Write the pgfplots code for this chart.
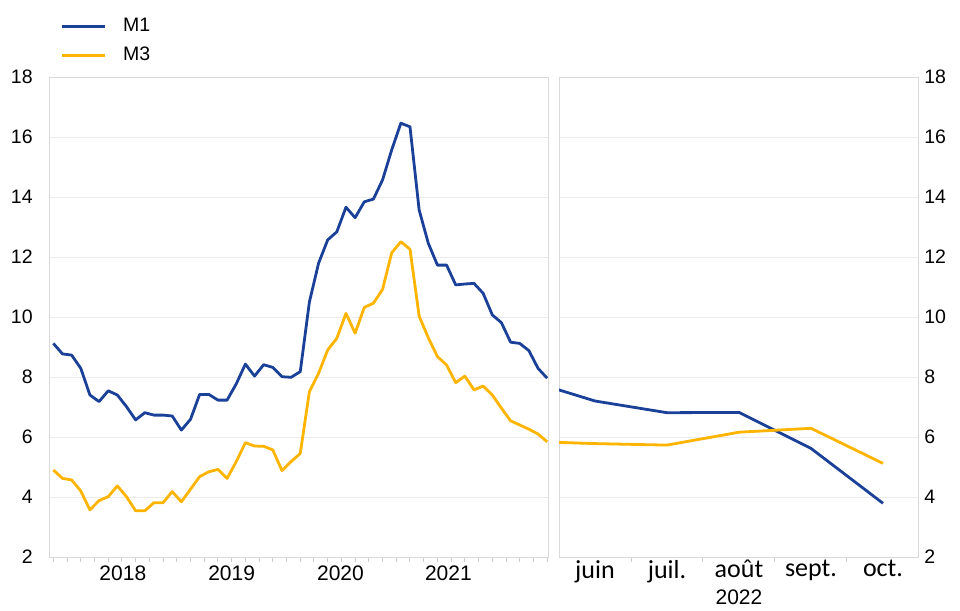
\documentclass[border=0pt]{standalone}
\usepackage{fontspec}
\setmainfont{Liberation Sans}
\newfontfamily\calibri{Carlito}
\usepackage{pgfplots}
\pgfplotsset{compat=1.18}
\definecolor{mone}{RGB}{26,64,152}
\definecolor{mthree}{RGB}{255,180,0}
\pgfplotsset{panel/.style={
  scale only axis, height=240pt, ymin=2, ymax=18, ytick={2,4,...,18},
  ymajorgrids, grid style={draw=black!8, line width=0.5pt},
  axis line style={draw=black!15, line width=0.5pt},
  major tick length=0pt, minor tick length=2.5pt,
  tick align=outside, xtick pos=lower,
  minor tick style={draw=black!20, line width=0.5pt},
  yticklabel style={font=\fontsize{9.75}{11}\selectfont, inner sep=0pt},
  /pgf/number format/assume math mode=true,
  every axis plot/.append style={line width=1.4pt, line join=round},
}}
\begin{document}
\begin{tikzpicture}[x=1pt,y=1pt]
\useasboundingbox (0,0) rectangle (480,-305.5);
\begin{axis}[panel, at={(24.75pt,-278.5pt)}, anchor=south west, width=249.75pt,
  xmin=-2.42, xmax=52.2,
  xtick={5.6,17.5,29.4,41.2}, xticklabels={2018,2019,2020,2021},
  xticklabel style={font=\fontsize{10.5}{12}\selectfont, anchor=north, inner sep=0pt, yshift=-4pt},
  minor xtick={-2,-0.5,...,52},
  yticklabel style={anchor=east, xshift=-8.25pt},
  legend style={at={(axis description cs:0,1)}, anchor=south west, xshift=5.25pt, yshift=4.5pt,
    draw=none, fill=none, inner sep=0pt, font=\fontsize{9.75}{11}\selectfont, row sep=2pt,
    /tikz/every odd column/.append style={column sep=6.5pt}},
  legend cell align=left,
  legend image code/.code={\draw[#1] (0pt,0pt) -- (21.5pt,0pt);},
]
\addplot[mone] coordinates {
(-2,9.12)(-1,8.77)(0,8.73)(1,8.29)(2,7.40)(3,7.18)(4,7.54)(5,7.40)(6,7.01)(7,6.57)
(8,6.81)(9,6.73)(10,6.73)(11,6.70)(12,6.23)(13,6.59)(14,7.42)(15,7.42)(16,7.23)(17,7.23)
(18,7.77)(19,8.43)(20,8.03)(21,8.41)(22,8.32)(23,8.01)(24,7.99)(25,8.18)(26,10.50)(27,11.79)
(28,12.57)(29,12.84)(30,13.66)(31,13.31)(32,13.84)(33,13.93)(34,14.57)(35,15.57)(36,16.46)(37,16.34)
(38,13.57)(39,12.46)(40,11.73)(41,11.73)(42,11.07)(43,11.10)(44,11.12)(45,10.79)(46,10.07)(47,9.81)
(48,9.16)(49,9.12)(50,8.88)(51,8.29)(52,7.96)};
\addlegendentry{M1}
\addplot[mthree] coordinates {
(-2,4.90)(-1,4.62)(0,4.57)(1,4.20)(2,3.57)(3,3.88)(4,4.01)(5,4.37)(6,4.01)(7,3.54)
(8,3.54)(9,3.81)(10,3.81)(11,4.18)(12,3.84)(13,4.26)(14,4.68)(15,4.84)(16,4.92)(17,4.62)
(18,5.18)(19,5.81)(20,5.70)(21,5.69)(22,5.57)(23,4.88)(24,5.18)(25,5.45)(26,7.51)(27,8.12)
(28,8.90)(29,9.29)(30,10.12)(31,9.46)(32,10.32)(33,10.46)(34,10.92)(35,12.14)(36,12.51)(37,12.26)
(38,10.03)(39,9.31)(40,8.68)(41,8.40)(42,7.81)(43,8.03)(44,7.57)(45,7.70)(46,7.40)(47,6.96)
(48,6.54)(49,6.40)(50,6.26)(51,6.10)(52,5.84)};
\addlegendentry{M3}
\end{axis}
\begin{axis}[panel, at={(279.5pt,-278.5pt)}, anchor=south west, width=180pt,
  xmin=52.5, xmax=57.5,
  xtick={53,...,57}, xticklabels={juin,juil.,août,sept.,oct.},
  xticklabel style={font=\calibri\fontsize{13}{15}\selectfont, anchor=north, inner sep=0pt, yshift=-1.5pt},
  minor xtick={53.5,54.5,55.5,56.5},
  ytick pos=right, yticklabel pos=right,
  yticklabel style={anchor=west, xshift=2.5pt},
  xlabel={2022},
  xlabel style={at={(axis description cs:0.5,0)}, anchor=north, inner sep=0pt, yshift=-16pt, font=\fontsize{10.5}{12}\selectfont},
]
\addplot[mone] coordinates {(52,7.94)(53,7.20)(54,6.81)(55,6.82)(56,5.62)(57,3.79)};
\addplot[mthree] coordinates {(52,5.86)(53,5.78)(54,5.73)(55,6.16)(56,6.29)(57,5.12)};
\end{axis}
\end{tikzpicture}
\end{document}
